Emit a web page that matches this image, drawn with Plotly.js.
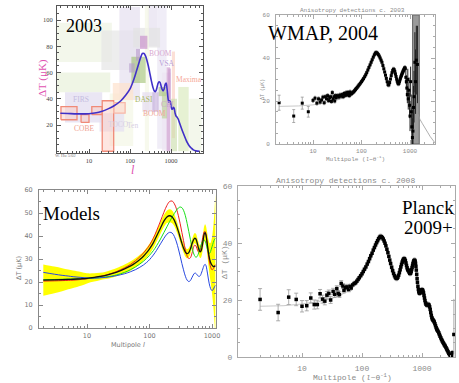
<!DOCTYPE html>
<html><head><meta charset="utf-8">
<script src="https://cdn.plot.ly/plotly-3.0.1.min.js"></script>
<style>html,body{margin:0;padding:0;background:#fff}#chart{width:459px;height:383px}</style>
</head><body><div id="chart"></div>
<script>
// ---------- Panel 1 (2003 compilation) ----------
const p1CurveL = [2,3,5,8,10,15,20,30,40,60,80,100,120,140,160,180,200,220,240,260,280,300,330,360,390,420,450,480,510,540,570,600,640,680,720,760,800,840,880,920,960,1000,1050,1100,1150,1200,1260,1320,1400,1500,1600,1750,1900,2100,2300,2500,2800,3100,3500,4000,5000];
const p1CurveT = [29,28.8,28.5,28.5,28.6,29.3,30.3,32.5,34.5,38.5,43,47.5,53.5,60,66,71,74.5,74.5,72.5,69,65,60.5,54,49,46,45.5,48,51.5,53,52.5,50,47.5,46,47.5,51,52,47.5,41,37.5,38.5,38,35,32,32.5,33.5,32.5,29,27,26,24.5,22,18.5,15.5,12,9,6.5,4,2.5,1,0.3,0];
// experiment boxes: l range and Delta T range
const boxLmin = [1.66,1.66,20,55,270,460,120,32,230,2.6,18,38,1500,2800,1050,200,600, 108,175,140,95,500,850,780,350,600,1000];
const boxLmax = [36,33,175,175,460,780,540,120,290,21,72,120,2700,5600,1250,400,1000, 240,265,175,130,750,1000,950,500,800,1400];
const boxTmin = [68,45,62,39,80,2,79,4,0,22,15,39,0,0,10,30,0, 52,78,69,60,42,39,0,30,25,0];
const boxTmax = [98,60,92,110,115,115,94,44,115,45,29,52,49,40,76,45,60, 72,88,78,67,49,63,64,45,45,40];
const boxFill = ['#eef4e2','#e8f1da','#e6e6e6','#e6e0f0','#e6e0f0','#e9e6f4','#e2e2e2','#f3f6e6','#f3f6e6','#e1dcef','#e4e0f2','#fde1cc','#dcebc0','#eef4e2','#fbd3c6','#e4dcef','#ece4f2',
                 '#9fc070','#c585c8','#b898cc','#b49ccc','#a8c47c','#c8a0d4','#cc98cc','#c2aad8','#b8d090','#c8dca8'];
const cobeLmin = [2.07,6.4,11.7,21,40];
const cobeLmax = [5.1,10,21,40,76];
const cobeTmin = [24,22,28,0,29];
const cobeTmax = [34,28,34,38.5,37];

// ---------- Panel 2 (WMAP 2004) ----------
const wmapLowL = [2,4,6,8];
const wmapLowT = [19.2,13.0,19.0,15.0];
const wmapLowErr = [3.5,3.0,2.8,2.5];
const wmapL = [10,11,12,13,14,15,
16,17,18,19,20,21,22,23,24,25,
26,27,28,29,30,32,34,36,38,40,
42,44,46,48,50,52,54,56,58,60,
63,66,69,72,75,78,82,86,90,95,
100,105,110,116,122,128,135,142,150,158,
166,175,184,193,202,212,222,232,242,253,
264,276,288,300,312,325,338,352,366,380,
395,410,425,440,455,470,485,500,515,530,
545,560,575,590,605,620,635,650,665,680,
695,710,725,740,755,770,785,800];
const wmapT = [20.3,21.3,19.0,21.0,19.5,20.5,
21.8,19.2,22.0,21.0,22.5,20.2,21.5,22.0,19.8,23.9,
21.0,22.0,20.0,22.5,21.5,22.5,21.8,22.8,22.2,23.0,
22.0,23.5,22.6,23.8,22.8,24.0,23.0,22.5,24.2,23.2,
23.5,24.0,24.3,24.8,25.3,25.8,26.4,27.0,27.6,28.3,
29.0,29.7,30.4,31.3,32.2,33.2,34.4,35.6,36.8,38.0,
39.2,40.4,41.5,42.3,42.5,42.2,41.6,40.9,40.0,39.0,
38.0,36.5,35.0,33.5,32.0,30.5,29.0,27.6,27.5,28.6,
30.2,31.8,33.2,34.2,34.8,34.6,33.8,32.6,31.4,30.2,
29.2,28.4,28.0,28.2,29.0,29.8,30.6,31.3,31.9,32.5,
33.0,33.5,34.0,34.4,34.8,35.2,35.5,35.0];
const wmapHiL = [820,840,860,880,900,920,950,980,1000,1030,1060,1090,1120,1150,1180,1210,1260,1300,1350,1420];
const wmapHiT = [31,29,26,23,30,21,25,18,13,29,15,8,3,6,17,22,38,29,39,37];
const wmapHiErr = [3,3,4,4,5,5,6,6,7,7,8,9,9,10,10,12,14,15,16,18];
const wmapBandL = [1130,1550];
const wmapBandT = [0,60];
const wmapTheoryLowL = [2,5,10,20,30,40,60];
const wmapTheoryLowT = [17.5,17.7,18.2,19.3,20.3,21.2,23.0];
const wmapTheoryHiL = [1450,1600,1800,2000,2300,2600,3000,3400];
const wmapTheoryHiT = [14,11.5,9.5,8,5.5,3.5,1.5,0];

// ---------- Panel 3 (Models) ----------
const modelL = [2,3,4,5,6,8,10,13,16,20,25,30,40,50,60,70,80,90,100,115,130,150,170,190,210,230,250,270,290,310,330,350,375,400,425,450,475,500,525,550,575,600,625,650,675,700,725,750,775,800,825,850,875,900,925,950,975,1000,1025,1050,1075,1100,1130];
const modelBlack = [20.8,20.9,21.0,21.1,21.2,21.4,21.6,22.0,22.4,22.9,23.6,24.3,25.7,27.0,28.4,29.8,31.2,32.8,34.4,37.0,40.0,43.5,46.5,48.3,48.8,48.3,46.8,44.5,42.0,39.3,36.8,34.8,33.0,32.3,32.8,34.3,36.3,38.0,39.0,38.8,37.3,35.3,33.7,33.1,33.8,35.8,38.5,40.8,41.5,40.5,38.2,35.5,33.0,31.0,29.5,28.5,27.8,27.3,27.0,26.8,26.7,26.8,27.0];
const modelRed = [20.4,20.5,20.6,20.7,20.8,21.1,21.4,21.9,22.4,23.0,23.8,24.6,26.2,27.7,29.3,30.9,32.6,34.3,36.0,39.0,42.3,46.5,50.3,53.3,55.0,55.2,54.0,51.8,48.8,45.3,41.5,38.0,34.0,31.3,30.2,30.5,32.2,34.5,36.0,35.8,34.5,33.2,33.0,34.0,36.0,38.3,40.5,41.8,42.0,40.8,38.0,34.8,31.8,29.5,27.8,26.5,25.7,25.3,25.4,25.8,26.4,27.0,27.5];
const modelGreen = [21.0,21.1,21.2,21.3,21.3,21.4,21.5,21.7,21.9,22.2,22.6,23.1,24.2,25.4,26.6,27.8,29.0,30.3,31.6,33.6,35.8,38.7,41.5,44.0,46.3,48.2,49.8,51.2,52.2,52.6,52.3,51.2,48.8,45.5,42.0,38.6,35.5,33.0,31.5,30.8,31.0,32.0,33.5,35.0,36.5,37.5,38.2,38.3,37.8,36.8,35.3,34.0,33.0,32.5,32.6,33.3,34.3,35.3,36.3,37.2,38.0,38.6,39.0];
const modelBlue = [24.2,23.4,22.9,22.6,22.3,22.0,21.8,21.7,21.8,22.0,22.4,22.8,23.6,24.5,25.4,26.4,27.4,28.5,29.7,31.7,33.8,36.6,39.0,40.8,41.6,41.3,39.8,37.4,34.4,31.2,28.0,25.3,22.5,20.8,20.2,20.6,21.8,23.0,23.8,23.8,23.2,22.6,22.4,22.8,23.8,25.0,26.3,27.3,27.7,27.2,25.6,23.5,21.3,19.5,18.1,17.1,16.5,16.3,16.4,16.8,17.4,18.0,18.5];
const bandHalfWidth = [6.8,5.8,5.0,4.3,3.8,3.0,2.2,1.8,1.6,1.6,1.7,1.8,1.9,2.0,2.0,2.0,2.0,2.1,2.2,2.3,2.4,2.5,2.6,2.7,2.8,2.8,2.6,2.4,2.2,2.1,2.0,2.0,2.0,2.0,2.0,2.0,2.0,2.1,2.2,2.3,2.4,2.5,2.6,2.7,2.8,3.0,3.2,3.4,3.6,3.9,4.3,4.8,5.5,6.3,7.3,8.6,10.2,12.2,14.6,17.5,21,25,31];

// ---------- Panel 4 (Planck 2009+) ----------
const planckLowL = [2,4,6,8,10,12,14,16,18,20,22,24,26,28,30,33,35,38,40,42,45,48,50,53,56,60];
const planckLowT = [20.2,15.6,21.0,20.2,17.8,18.0,20.7,18.4,18.4,22.2,20.3,19.6,21.7,22.3,20.0,23.0,22.0,24.0,22.3,21.9,25.8,24.9,23.4,24.3,24.6,23.7];
const planckLowErr = [3.8,2.9,2.6,2.2,2.0,1.8,1.8,1.6,1.5,1.5,1.4,1.3,1.3,1.2,1.2,1.1,1.1,1.0,1.0,1.0,1.0,0.9,0.9,0.9,0.9,0.8];
const planckL = [63,66,70,74,78,82,86,90,95,100,
105,110,116,122,128,134,140,147,154,161,
168,175,182,189,196,203,210,218,226,234,
242,250,260,270,280,290,300,312,324,336,
348,360,372,384,396,408,420,432,444,456,
468,480,492,504,516,528,540,552,564,576,
588,600,612,624,636,648,660,672,684,696,
708,720,732,744,756,768,780,792,804,816,
828,840,855,870,885,900,915,930,945,960,
980,1000,1020,1040,1060,1080,1100,1120,1145,1170,
1195,1220,1250,1280,1310,1340,1370,1400,1430,1460,
1490,1520,1560,1600,1640,1680,1720,1760,1800,1850,
1900,1950,2000,2060,2120,2180,2240,2300,2370,2440,
2510,2580,2650,2720,2800,2880,2960,3040,3120,3200];
const planckT = [24.8,24.2,25.3,25.8,26.0,26.6,27.2,27.8,28.5,29.2,
30.0,30.8,31.6,32.6,33.5,34.5,35.5,36.4,37.5,38.4,
39.3,40.1,40.8,41.5,42.0,42.3,42.2,41.9,41.4,40.7,
39.9,39.0,37.8,36.6,35.3,34.0,32.8,31.5,30.3,29.3,
28.5,27.9,27.6,27.6,28.0,28.7,29.6,30.6,31.6,32.5,
33.3,33.9,34.3,34.5,34.3,33.8,33.0,32.1,31.3,30.7,
30.4,30.2,29.7,29.4,29.3,29.5,30.0,30.7,31.4,32.1,
32.8,33.3,33.7,33.9,33.9,33.6,32.9,31.8,30.5,29.0,
27.5,26.2,24.8,23.7,22.9,22.5,22.4,22.6,22.9,23.2,
23.5,23.6,23.5,23.1,22.5,21.6,20.7,19.8,19.0,18.5,
18.3,18.3,18.4,18.4,18.2,17.6,16.7,15.6,14.6,13.8,
13.3,13.0,12.7,12.3,11.7,11.0,10.3,9.8,9.4,9.0,
8.5,7.9,7.3,6.7,6.1,5.6,5.1,4.7,4.2,3.8,
3.3,2.8,2.3,1.8,1.3,0.9,0.6,0.4,0.6,1.5];
const planckEndL = [3400];
const planckEndT = [7.9];
const planckEndErrPlus = [12.5];
const planckEndErrMinus = [7.9];
const planckTheoryL = [2,5,10,20,30,40,60];
const planckTheoryT = [17.8,18.0,18.6,19.5,20.4,21.3,23.2];

// tick labels
const logTickVals = [10,100,1000];
const logTickText = ['10','100','1000'];
const logMinor = [2,3,4,5,6,7,8,9,20,30,40,50,60,70,80,90,200,300,400,500,600,700,800,900,2000,3000,4000,5000,6000,7000,8000,9000];

// ---------- build ----------
const W = 459, H = 383;
const px = v => v / W, py = v => 1 - v / H;
const traces = [];

function rectX(a, b) { return [a, b, b, a, a]; }
function rectY(a, b) { return [a, a, b, b, a]; }

for (let i = 0; i < boxLmin.length; i++) {
  traces.push({type:'scatter', mode:'lines', xaxis:'x', yaxis:'y',
    x: rectX(boxLmin[i], boxLmax[i]), y: rectY(boxTmin[i], boxTmax[i]),
    fill:'toself', fillcolor: boxFill[i], line:{width:0}, opacity: i < 17 ? 0.7 : 0.6, hoverinfo:'skip'});
}
for (let i = 0; i < cobeLmin.length; i++) {
  traces.push({type:'scatter', mode:'lines', xaxis:'x', yaxis:'y',
    x: rectX(cobeLmin[i], cobeLmax[i]), y: rectY(cobeTmin[i], cobeTmax[i]),
    fill:'toself', fillcolor:'rgba(252,200,188,0.45)', line:{width:1.3, color: i === 4 ? '#f8b8a8' : '#f08a78'}, hoverinfo:'skip'});
}
traces.push({type:'scatter', mode:'lines', xaxis:'x', yaxis:'y', x:p1CurveL, y:p1CurveT,
  line:{color:'#4030c8', width:1.6, shape:'spline', smoothing:0.8}});

// Panel 2
traces.push({type:'scatter', mode:'lines', xaxis:'x2', yaxis:'y2',
  x: rectX(wmapBandL[0], wmapBandL[1]), y: rectY(wmapBandT[0], wmapBandT[1]),
  fill:'toself', fillcolor:'#9a9a9a', line:{width:1, color:'#666'}});
traces.push({type:'scatter', mode:'lines', xaxis:'x2', yaxis:'y2', x:wmapTheoryLowL, y:wmapTheoryLowT, line:{color:'#bbb', width:0.8}});
traces.push({type:'scatter', mode:'lines', xaxis:'x2', yaxis:'y2', x:wmapTheoryHiL, y:wmapTheoryHiT, line:{color:'#999', width:0.8}});
traces.push({type:'scatter', mode:'markers', xaxis:'x2', yaxis:'y2', x:wmapLowL, y:wmapLowT,
  marker:{color:'#000', size:3, symbol:'square'}, error_y:{type:'data', array:wmapLowErr, color:'#999', thickness:0.8, width:1.5}});
traces.push({type:'scatter', mode:'markers', xaxis:'x2', yaxis:'y2', x:wmapL, y:wmapT,
  marker:{color:'#000', size:3, symbol:'square'}, error_y:{type:'constant', value:0.9, color:'#888', thickness:0.8, width:1}});
traces.push({type:'scatter', mode:'markers', xaxis:'x2', yaxis:'y2', x:wmapHiL, y:wmapHiT,
  marker:{color:'#000', size:3, symbol:'square'}, error_y:{type:'data', array:wmapHiErr, color:'#222', thickness:1, width:0}});

// Panel 3
const bandLo = modelBlack.map((v, i) => v - bandHalfWidth[i]);
const bandHi = modelBlack.map((v, i) => v + bandHalfWidth[i]);
traces.push({type:'scatter', mode:'lines', xaxis:'x3', yaxis:'y3', x:modelL, y:bandLo, line:{width:0, shape:'spline'}, hoverinfo:'skip'});
traces.push({type:'scatter', mode:'lines', xaxis:'x3', yaxis:'y3', x:modelL, y:bandHi, line:{width:0, shape:'spline'}, fill:'tonexty', fillcolor:'#ffff00'});
traces.push({type:'scatter', mode:'lines', xaxis:'x3', yaxis:'y3', x:modelL, y:modelRed, line:{color:'#f02020', width:1, shape:'spline'}});
traces.push({type:'scatter', mode:'lines', xaxis:'x3', yaxis:'y3', x:modelL, y:modelGreen, line:{color:'#18e018', width:1, shape:'spline'}});
traces.push({type:'scatter', mode:'lines', xaxis:'x3', yaxis:'y3', x:modelL, y:modelBlue, line:{color:'#2848e0', width:1, shape:'spline'}});
traces.push({type:'scatter', mode:'lines', xaxis:'x3', yaxis:'y3', x:modelL, y:modelBlack, line:{color:'#111', width:1.3, shape:'spline'}});

// Panel 4
traces.push({type:'scatter', mode:'lines', xaxis:'x4', yaxis:'y4', x:planckTheoryL, y:planckTheoryT, line:{color:'#bbb', width:0.8}});
traces.push({type:'scatter', mode:'markers', xaxis:'x4', yaxis:'y4', x:planckLowL, y:planckLowT,
  marker:{color:'#000', size:3.5, symbol:'square'}, error_y:{type:'data', array:planckLowErr, color:'#999', thickness:0.8, width:2}});
traces.push({type:'scatter', mode:'markers', xaxis:'x4', yaxis:'y4', x:planckL, y:planckT,
  marker:{color:'#000', size:3.5, symbol:'square'}, error_y:{type:'constant', value:0.8, color:'#999', thickness:0.8, width:1}});
traces.push({type:'scatter', mode:'markers', xaxis:'x4', yaxis:'y4', x:planckEndL, y:planckEndT,
  marker:{color:'#000', size:3.5, symbol:'square'}, error_y:{type:'data', symmetric:false, array:planckEndErrPlus, arrayminus:planckEndErrMinus, color:'#aaa', thickness:1, width:0}});

function logAxis(domain, range, anchor, font, lineColor, standoff) {
  return {type:'log', domain, range, anchor, showline:true, linecolor:lineColor, linewidth:1, mirror:'allticks',
    ticks:'inside', ticklen:4, tickcolor:lineColor, tickmode:'array', tickvals:logTickVals, ticktext:logTickText,
    tickfont:font, showgrid:false, zeroline:false, ticklabelstandoff:standoff,
    minor:{tickmode:'array', tickvals:logMinor, ticks:'inside', ticklen:2, tickcolor:lineColor, showgrid:false}};
}
function linAxis(domain, range, anchor, font, lineColor, tickvals, minorStep, standoff) {
  return {domain, range, anchor, showline:true, linecolor:lineColor, linewidth:1, mirror:'allticks',
    ticks:'inside', ticklen:4, tickcolor:lineColor, tickmode:'array', tickvals, tickfont:font,
    showgrid:false, zeroline:false, ticklabelstandoff:standoff,
    minor:{dtick:minorStep, ticks:'inside', ticklen:2, tickcolor:lineColor, showgrid:false}};
}
const serifTick = {family:'Liberation Serif, Times New Roman, serif', size:6.5, color:'#444'};
const mono6 = {family:'Liberation Mono, Courier New, monospace', size:6, color:'#8a8a8a'};
const mono8 = {family:'Liberation Mono, Courier New, monospace', size:8, color:'#8a8a8a'};
const sans6 = {family:'DejaVu Sans, sans-serif', size:6.5, color:'#777'};

const layout = {
  width:W, height:H, margin:{l:0, r:0, t:0, b:0}, paper_bgcolor:'#fff', plot_bgcolor:'rgba(0,0,0,0)', showlegend:false,
  xaxis: logAxis([px(57), px(203)], [0.2195, 3.78], 'y', serifTick, '#555', 1),
  yaxis: linAxis([py(153), py(6)], [-1.33, 110.7], 'x', serifTick, '#555', [20,40,60,80,100], 5, 2),
  xaxis2: logAxis([px(276), px(435)], [0.237, 3.515], 'y2', mono6, '#aaa', 1),
  yaxis2: linAxis([py(144), py(15)], [0, 60], 'x2', mono6, '#aaa', [0,20,40,60], 5, 4),
  xaxis3: logAxis([px(39), px(216)], [0.232, 3.064], 'y3', sans6, '#888', 1),
  yaxis3: linAxis([py(328), py(190)], [0, 60], 'x3', sans6, '#888', [0,10,20,30,40,50,60], 5, 4),
  xaxis4: logAxis([px(238), px(455)], [-0.067, 3.55], 'y4', mono8, '#aaa', 3),
  yaxis4: linAxis([py(357), py(186)], [0, 60], 'x4', mono8, '#aaa', [0,20,40,60], 5, 3),
  annotations: []
};
function note(x, y, text, font, extra) {
  layout.annotations.push(Object.assign({xref:'paper', yref:'paper', x:px(x), y:py(y), text, showarrow:false,
    font, xanchor:'center', yanchor:'middle'}, extra || {}));
}
const serifBig = s => ({family:'Liberation Serif, Times New Roman, serif', size:s, color:'#000'});
const lab = c => ({family:'Liberation Serif, Times New Roman, serif', size:7.5, color:c});
// Panel 1 labels
note(84, 26, '2003', serifBig(18));
note(160, 53, 'BOOM', lab('#d8a8d0'));
note(167, 63, 'VSA', lab('#b8a0d8'));
note(189, 80, 'Maxima', lab('#f6a898'));
note(144, 99, 'DASI', lab('#a8b860'));
note(154, 114, 'BOOM', lab('#f0a898'));
note(167, 105, 'CBI', lab('#c8a8c8'));
note(81, 99, 'FIRS', lab('#c4bce0'));
note(84, 128, 'COBE', lab('#f0a090'));
note(118, 124, 'TOCO', lab('#d8d0e4'));
note(132, 126, 'Ten', lab('#d8d0e4'));
note(65, 155, 'W. Hu 5/02', {family:'Liberation Serif, serif', size:4.5, color:'#777'});
note(42, 78, 'ΔT (μK)', {family:'Liberation Serif, serif', size:11, color:'#e050b0'}, {textangle:-90});
note(133, 170, '<i>l</i>', {family:'Liberation Serif, serif', size:12, color:'#e050b0'});
// Panel 2 labels
note(352, 10, 'Anisotropy detections c. 2003', mono6);
note(323, 33, 'WMAP, 2004', serifBig(20));
note(263, 90, 'ΔT (μK)', {family:'Liberation Mono, monospace', size:5, color:'#8a8a8a'}, {textangle:-90});
note(355, 159, 'Multipole (<i>l</i>~θ<sup>-1</sup>)', mono6);
// Panel 3 labels
note(71, 213, 'Models', serifBig(19));
note(19, 268, 'ΔT (μK)', sans6, {textangle:-90});
note(128, 345, 'Multipole <i>l</i>', sans6);
// Panel 4 labels
note(345, 180, 'Anisotropy detections c. 2008', mono8);
note(428, 207, 'Planck', serifBig(19));
note(428, 227, '2009+', serifBig(19));
note(224, 262, 'ΔT (μK)', mono8, {textangle:-90});
note(352, 377, 'Multipole (<i>l</i>~θ<sup>-1</sup>)', mono8);

Plotly.newPlot('chart', traces, layout, {staticPlot:true, displayModeBar:false});
</script></body></html>
